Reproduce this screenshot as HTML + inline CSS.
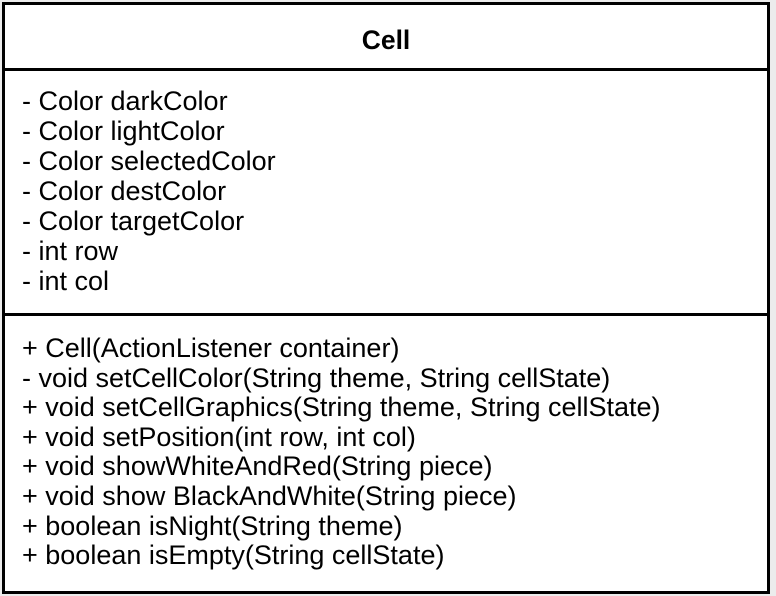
<!DOCTYPE html>
<html><head><style>
body{margin:0;width:776px;height:596px;background:#ececec;overflow:hidden;font-family:"Liberation Sans",Arial,sans-serif;}
.box{position:absolute;left:2px;top:2px;width:762px;height:586px;border:3px solid #000;background:#fff;}
.hl{position:absolute;left:0;width:762px;height:3px;background:#000;}
.t{position:absolute;left:17px;font-size:27px;line-height:30px;white-space:pre;color:#000;}
</style></head><body>
<div class="box">
<div style="position:absolute;top:20px;left:0;width:762px;text-align:center;font-weight:bold;font-size:26.5px;">Cell</div>
<div class="hl" style="top:63px"></div>
<div class="t" style="top:81px">- Color darkColor
- Color lightColor
- Color selectedColor
- Color destColor
- Color targetColor
- int row
- int col</div>
<div class="hl" style="top:308px"></div>
<div class="t" style="top:329px;line-height:29.6px">+ Cell(ActionListener container)
- void setCellColor(String theme, String cellState)
+ void setCellGraphics(String theme, String cellState)
+ void setPosition(int row, int col)
+ void showWhiteAndRed(String piece)
+ void show BlackAndWhite(String piece)
+ boolean isNight(String theme)
+ boolean isEmpty(String cellState)</div>
</div>
</body></html>
